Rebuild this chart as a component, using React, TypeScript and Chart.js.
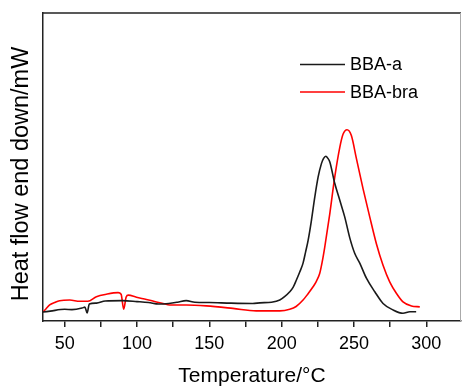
import React, { useEffect, useRef } from "react";
import { Chart, registerables } from "chart.js";

Chart.register(...registerables);

// Temperature (°C) samples and heat-flow values (arbitrary units)
const tempA = [35, 40, 50, 55, 62, 64, 65.5, 67, 72, 78, 90, 100, 108, 115, 122, 128, 134, 140, 150, 165, 180, 185, 193, 198.7, 202, 205.6, 208, 210.2, 212.5, 214.8, 216.5, 218.3, 220.6, 222.9, 225.2, 227.5, 229, 230.5, 232, 233.3, 236.7, 240.2, 243.6, 247.1, 250.5, 254, 258.6, 264.4, 270.1, 277, 283.9, 288.6, 293];
const flowA = [2.9, 3.2, 3.8, 3.7, 4.2, 4.5, 2.6, 5.5, 5.8, 6.5, 6.6, 6.3, 6.0, 5.5, 5.7, 6.1, 6.6, 6.1, 6.0, 5.8, 5.7, 5.9, 6.1, 6.8, 7.9, 9.5, 11.0, 13.3, 15.9, 18.8, 22.3, 26.2, 32.7, 40.2, 46.7, 51.1, 52.8, 53.5, 52.8, 51.6, 44.7, 39.2, 33.8, 27.0, 22.0, 18.8, 13.9, 9.5, 5.7, 3.6, 2.5, 3.0, 3.0];

const tempBra = [35, 37, 39.6, 43, 46.5, 53.5, 60.4, 66, 71.9, 78.8, 86.9, 89, 90.8, 92.5, 94, 99.6, 106.5, 113.4, 118, 122.6, 134.1, 147.9, 166.3, 182.4, 198.7, 205.6, 210, 214.8, 218, 221.7, 224, 226.3, 228, 229.8, 233.3, 236.7, 240.2, 242.5, 245.2, 248.2, 251.7, 256.3, 260.9, 265.5, 270.1, 274.7, 279.3, 283.9, 289.7, 295.5];
const flowBra = [2.9, 3.9, 5.2, 6.0, 6.6, 6.8, 6.4, 6.4, 7.9, 8.7, 9.2, 8.7, 3.8, 7.8, 8.4, 7.7, 7.0, 6.2, 5.7, 5.2, 5.2, 4.9, 4.1, 3.3, 3.3, 3.8, 4.7, 6.8, 8.7, 11.1, 12.9, 15.4, 19.1, 24.0, 34.9, 46.7, 56.4, 60.7, 62.1, 60.2, 52.7, 42.9, 33.8, 25.1, 18.1, 12.7, 9.0, 6.2, 4.9, 4.6];

const seriesLabels = ["BBA-a", "BBA-bra"];
const seriesColors = ["#1a1a1a", "#ff0000"];
const xTickValues = [50, 75, 100, 125, 150, 175, 200, 225, 250, 275, 300];
const xTitle = "Temperature/°C";
const yTitle = "Heat flow end down/mW";

const FONT = '"Liberation Sans", Arial, sans-serif';

const legendPlugin = {
  id: "customLegend",
  afterDraw(chart: any) {
    const ctx = chart.ctx;
    const ds = chart.data.datasets;
    ctx.save();
    ctx.font = "18px " + FONT;
    ctx.textBaseline = "middle";
    ctx.textAlign = "left";
    const ys = [64.5, 92];
    ds.forEach((d: any, i: number) => {
      ctx.strokeStyle = d.borderColor;
      ctx.lineWidth = 1.5;
      ctx.beginPath();
      ctx.moveTo(300, ys[i]);
      ctx.lineTo(345, ys[i]);
      ctx.stroke();
      ctx.fillStyle = "#000";
      ctx.fillText(d.label, 350, ys[i] + 1);
    });
    ctx.restore();
  },
};

const boxPlugin = {
  id: "boxPlugin",
  afterDraw(chart: any) {
    const { ctx, chartArea } = chart;
    ctx.save();
    ctx.lineWidth = 1.5;
    ctx.strokeStyle = "#222";
    ctx.beginPath();
    ctx.moveTo(chartArea.left, chartArea.top);
    ctx.lineTo(chartArea.right, chartArea.top);
    ctx.stroke();
    ctx.strokeStyle = "#aaa";
    ctx.lineWidth = 1;
    ctx.beginPath();
    ctx.moveTo(chartArea.right - 0.5, chartArea.top);
    ctx.lineTo(chartArea.right - 0.5, chartArea.bottom);
    ctx.stroke();
    // y axis title
    ctx.translate(22, 174);
    ctx.rotate(-Math.PI / 2);
    ctx.font = "23.5px " + FONT;
    ctx.fillStyle = "#000";
    ctx.textAlign = "center";
    ctx.textBaseline = "middle";
    ctx.fillText(yTitle, 0, 0);
    ctx.restore();
  },
};

export default function App() {
  const ref = useRef<HTMLCanvasElement | null>(null);
  useEffect(() => {
    document.body.style.margin = "0";
    const canvas = ref.current;
    if (!canvas) return;
    const chart = new Chart(canvas, {
      type: "line",
      data: {
        datasets: [
          {
            label: seriesLabels[0],
            data: tempA.map((t, i) => ({ x: t, y: flowA[i] })),
            borderColor: seriesColors[0],
            borderWidth: 1.6,
            pointRadius: 0,
            cubicInterpolationMode: "monotone",
          },
          {
            label: seriesLabels[1],
            data: tempBra.map((t, i) => ({ x: t, y: flowBra[i] })),
            borderColor: seriesColors[1],
            borderWidth: 1.6,
            pointRadius: 0,
            cubicInterpolationMode: "monotone",
          },
        ],
      },
      options: {
        animation: false,
        responsive: false,
        devicePixelRatio: 1,
        layout: { padding: { top: 13, right: 1, left: 0, bottom: 0 } },
        plugins: { legend: { display: false }, tooltip: { enabled: false } },
        scales: {
          x: {
            type: "linear",
            min: 35,
            max: 324,
            afterBuildTicks: (axis: any) => {
              axis.ticks = xTickValues.map((v) => ({ value: v }));
            },
            afterFit: (axis: any) => {
              axis.height = 66;
            },
            ticks: {
              autoSkip: false,
              maxRotation: 0,
              padding: 6,
              color: "#000",
              font: { family: FONT, size: 18 },
              callback: (v: any) => (Number(v) % 50 === 0 ? String(v) : ""),
            },
            grid: {
              drawOnChartArea: false,
              drawTicks: true,
              tickLength: 6,
              color: "#222",
              lineWidth: 1.5,
            },
            border: { display: true, color: "#222", width: 1.5 },
            title: {
              display: true,
              text: xTitle,
              color: "#000",
              font: { family: FONT, size: 21, lineHeight: 1 },
              padding: { top: 0, bottom: 0 },
            },
          },
          y: {
            min: 0,
            max: 100,
            ticks: { display: false },
            grid: { display: false, drawTicks: false },
            border: { display: true, color: "#222", width: 1.5 },
            afterFit: (axis: any) => {
              axis.width = 43;
            },
            title: { display: false },
          },
        },
      },
      plugins: [legendPlugin, boxPlugin],
    } as any);
    return () => chart.destroy();
  }, []);
  return <canvas ref={ref} width={462} height={387} style={{ display: "block" }} />;
}
